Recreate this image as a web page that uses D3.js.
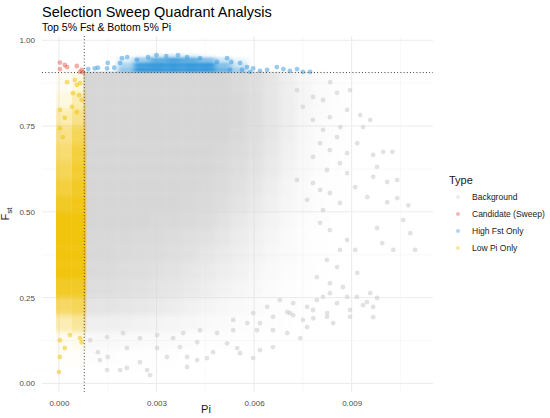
<!DOCTYPE html>
<html>
<head>
<meta charset="utf-8">
<script src="https://cdn.jsdelivr.net/npm/d3@7"></script>
<style>
  body { margin: 0; background: #fff; }
  text { font-family: "Liberation Sans", Arial, sans-serif; }
</style>
</head>
<body>
<svg id="chart"></svg>
<script>
// thresholds (top 5% Fst, bottom 5% Pi)
var fstCut = 0.906;
var piCut = 0.00078;

var piTicks = [0, 0.003, 0.006, 0.009];
var piMinor = [0.0015, 0.0045, 0.0075, 0.0105];
var fstTicks = [0, 0.25, 0.5, 0.75, 1];
var fstMinor = [0.125, 0.375, 0.625, 0.875];

var types = ["Background", "Candidate (Sweep)", "High Fst Only", "Low Pi Only"];
var typeColors = ["#d3d3d3", "#e74c3c", "#3498db", "#f1c40f"];

// background cloud, read as density per cell (0 = empty, 1 = solid)
var bgPiEdges = [0.00078, 0.0013, 0.0018, 0.0023, 0.0028, 0.0033, 0.0038, 0.0043, 0.0048,
  0.0053, 0.0058, 0.0063, 0.0068, 0.0073, 0.0078, 0.0083, 0.0088];
var bgFstEdges = [0.906, 0.85, 0.80, 0.75, 0.70, 0.65, 0.60, 0.55, 0.50, 0.45, 0.40,
  0.35, 0.30, 0.25, 0.20, 0.15, 0.10, 0.05, 0.0];
var bgDensity = [
  [1, 1, 1, 1, 1, 1, 1, 1, 1, .9, .8, .6, .4, .22, .1, .04],
  [1, 1, 1, 1, 1, 1, 1, 1, 1, .95, .82, .62, .42, .24, .11, .05],
  [1, 1, 1, 1, 1, 1, 1, 1, 1, .95, .82, .62, .42, .23, .1, .04],
  [1, 1, 1, 1, 1, 1, 1, 1, 1, .92, .8, .6, .38, .2, .09, .04],
  [1, 1, 1, 1, 1, 1, 1, 1, .95, .88, .75, .55, .34, .18, .08, .03],
  [1, 1, 1, 1, 1, 1, 1, 1, .92, .84, .68, .5, .3, .16, .07, .03],
  [1, 1, 1, 1, 1, 1, 1, .95, .88, .76, .6, .42, .25, .13, .06, .02],
  [1, 1, 1, 1, 1, 1, .95, .9, .82, .68, .52, .36, .22, .11, .05, .02],
  [1, 1, 1, 1, .95, .95, .9, .85, .72, .56, .42, .3, .17, .08, .04, .01],
  [.95, .95, .95, .9, .9, .85, .8, .72, .6, .46, .35, .24, .13, .06, .03, .01],
  [.95, .95, .9, .88, .85, .8, .72, .62, .5, .4, .3, .2, .11, .05, .02, 0],
  [.9, .9, .86, .82, .76, .7, .62, .52, .42, .32, .23, .15, .08, .04, .02, 0],
  [.82, .82, .78, .72, .66, .6, .52, .42, .32, .24, .16, .1, .06, .03, .01, 0],
  [.65, .65, .6, .55, .5, .45, .35, .28, .2, .14, .1, .06, .04, .02, 0, 0],
  [.4, .4, .36, .32, .28, .24, .2, .15, .11, .08, .06, .04, .02, .01, 0, 0],
  [.18, .18, .15, .13, .11, .09, .07, .05, .04, .03, .02, .01, 0, 0, 0, 0],
  [.04, .04, .03, .03, .02, .02, .01, .01, 0, 0, 0, 0, 0, 0, 0, 0],
  [0, 0, 0, 0, 0, 0, 0, 0, 0, 0, 0, 0, 0, 0, 0, 0]
];

// low pi band density
var lowPiEdges = [0, 0.0004, 0.00078];
var lowPiFstEdges = bgFstEdges;
var lowPiDensity = [
  [.05, .12], [.12, .3], [.3, .5], [.5, .7], [.6, .8], [.7, .85],
  [.8, .9], [.9, .95], [1, 1], [1, 1], [1, 1], [1, 1], [.9, .9],
  [.65, .7], [.3, .4], [.06, .08], [.02, .02], [0, 0]
];

// high fst band density
var highFstPiEdges = [0.0018, 0.0023, 0.0028, 0.0033, 0.0038, 0.0043, 0.0048, 0.0053, 0.0058];
var highFstFstEdges = [0.96, 0.95, 0.935, 0.92, 0.906];
var highFstDensity = [
  [0, .05, .15, .2, .15, .05, 0, 0],
  [.15, .5, .8, .9, .8, .6, .25, .1],
  [.4, .95, 1, 1, 1, 1, .6, .25],
  [.55, 1, 1, 1, 1, 1, .75, .45]
];

// scattered points outside the dense areas
var bgPi = [0.00966, 0.01009, 0.0104, 0.00911, 0.00948, 0.01009, 0.0104, 0.01074, 0.01058, 0.00978,
  0.0108, 0.00994, 0.01028, 0.01095, 0.00911, 0.00886, 0.00917, 0.00957, 0.00978, 0.00935,
  0.00895, 0.00966, 0.00834, 0.00895, 0.00855, 0.00926, 0.00957, 0.00935, 0.00886, 0.00865,
  0.00966, 0.00997, 0.01025, 0.00978, 0.00917, 0.00886,
  0.0012, 0.0015, 0.00148, 0.00209, 0.00188, 0.00249, 0.0028, 0.00332, 0.00394, 0.00425,
  0.00455, 0.00302, 0.00474, 0.00517, 0.00548, 0.00557, 0.00597, 0.00618, 0.00658, 0.00702,
  0.00742, 0.00763, 0.00782, 0.00825, 0.00843, 0.0072, 0.00658, 0.00609, 0.00425, 0.00372,
  0.00209, 0.00126, 0.00271, 0.00394,
  0.00833, 0.00864, 0.00803, 0.00833, 0.00864, 0.00824, 0.00855, 0.00793, 0.00833, 0.00873,
  0.00812, 0.00855, 0.00781, 0.00824, 0.00895, 0.0075, 0.0071, 0.00916, 0.00947, 0.00886,
  0.00966, 0.00732, 0.00781, 0.00803, 0.00763, 0.00812,
  0.00732, 0.00781, 0.0075, 0.00812, 0.00833, 0.00781, 0.00812, 0.00855, 0.00803, 0.00833,
  0.00781, 0.00864, 0.00824, 0.00886,
  0.00096, 0.00148, 0.00197, 0.00249, 0.00302, 0.00351, 0.00382, 0.00434, 0.00486, 0.00536,
  0.00579, 0.00618, 0.00536, 0.00658, 0.00597, 0.00702, 0.0064, 0.0072, 0.00763, 0.00679,
  0.00793, 0.00833];
var bgFst = [0.602, 0.587, 0.593, 0.572, 0.543, 0.528, 0.540, 0.519, 0.476, 0.453,
  0.438, 0.409, 0.389, 0.389, 0.389, 0.418, 0.322, 0.263, 0.249, 0.228,
  0.214, 0.193, 0.878, 0.855, 0.847, 0.782, 0.768, 0.747, 0.797, 0.747,
  0.666, 0.675, 0.675, 0.631, 0.700, 0.671,
  0.091, 0.077, 0.039, 0.045, 0.039, 0.062, 0.024, 0.077, 0.077, 0.068,
  0.074, 0.103, 0.091, 0.117, 0.103, 0.088, 0.074, 0.097, 0.106, 0.147,
  0.132, 0.164, 0.19, 0.205, 0.176, 0.199, 0.155, 0.155, 0.12, 0.106,
  0.103, 0.068, 0.039, 0.048,
  0.555, 0.526, 0.468, 0.447, 0.389, 0.360, 0.339, 0.310, 0.292, 0.281,
  0.252, 0.234, 0.214, 0.194, 0.194, 0.185, 0.205, 0.252, 0.237, 0.252,
  0.223, 0.593, 0.584, 0.564, 0.535, 0.505,
  0.855, 0.835, 0.806, 0.826, 0.776, 0.768, 0.739, 0.718, 0.70, 0.68,
  0.66, 0.642, 0.622, 0.613,
  0.126, 0.135, 0.147, 0.132, 0.141, 0.132, 0.147, 0.155, 0.147, 0.155,
  0.176, 0.176, 0.185, 0.194, 0.205, 0.208, 0.223, 0.234, 0.223, 0.243,
  0.243, 0.263];

var candPi = [0.00003, 0.00018, 0.00025, 0.00003, 0.00055, 0.0007, 0.00065, 0.00074];
var candFst = [0.935, 0.928, 0.922, 0.916, 0.925, 0.914, 0.908, 0.907];

var highFstPi = [0.0009, 0.0011, 0.0012, 0.0015, 0.00148, 0.0017, 0.00188, 0.00194, 0.0021,
  0.00486, 0.00517, 0.0053, 0.00557, 0.00578, 0.00563, 0.00597, 0.00618, 0.0064, 0.0067,
  0.0069, 0.0071, 0.00732, 0.0075, 0.00772, 0.00588, 0.00526,
  0.00274, 0.003, 0.0033, 0.00366, 0.00394, 0.00434, 0.0024];
var highFstFst = [0.916, 0.918, 0.92, 0.934, 0.918, 0.92, 0.934, 0.948, 0.951,
  0.937, 0.948, 0.937, 0.934, 0.922, 0.914, 0.918, 0.911, 0.914, 0.922,
  0.916, 0.911, 0.916, 0.908, 0.908, 0.908, 0.914,
  0.951, 0.957, 0.954, 0.957, 0.951, 0.948, 0.943];

var lowPiPi = [0.00025, 0.00049, 0.00055, 0.00065, 0.00043, 0.00062, 0.0007, 0.0004, 0.00003,
  0.00018, 0.00055, 0.00003, 0.00012,
  0.00003, 0.00018, 0.00003, 0, 0.0007, 0.00034, 0.00065];
var lowPiFst = [0.878, 0.884, 0.87, 0.875, 0.846, 0.84, 0.826, 0.806, 0.797,
  0.774, 0.791, 0.744, 0.718,
  0.126, 0.103, 0.077, 0.033, 0.12, 0.141, 0.132];

var W = 550, H = 418;
var svg = d3.select("#chart").attr("width", W).attr("height", H);

var x = d3.scaleLinear().domain([-0.00052, 0.0115]).range([42, 433]);
var y = d3.scaleLinear().domain([-0.025, 1.0125]).range([392, 36]);

// grid
var grid = svg.append("g");
grid.selectAll(".minx").data(piMinor).enter().append("line")
  .attr("x1", x).attr("x2", x).attr("y1", y.range()[1]).attr("y2", y.range()[0])
  .attr("stroke", "#f2f2f2").attr("stroke-width", 0.5);
grid.selectAll(".miny").data(fstMinor).enter().append("line")
  .attr("y1", y).attr("y2", y).attr("x1", x.range()[0]).attr("x2", x.range()[1])
  .attr("stroke", "#f2f2f2").attr("stroke-width", 0.5);
grid.selectAll(".majx").data(piTicks).enter().append("line")
  .attr("x1", x).attr("x2", x).attr("y1", y.range()[1]).attr("y2", y.range()[0])
  .attr("stroke", "#ebebeb").attr("stroke-width", 1);
grid.selectAll(".majy").data(fstTicks).enter().append("line")
  .attr("y1", y).attr("y2", y).attr("x1", x.range()[0]).attr("x2", x.range()[1])
  .attr("stroke", "#ebebeb").attr("stroke-width", 1);

var defs = svg.append("defs");
function blurFilter(id, sd) {
  defs.append("filter").attr("id", id)
    .attr("x", "-20%").attr("y", "-20%").attr("width", "140%").attr("height", "140%")
    .append("feGaussianBlur").attr("stdDeviation", sd);
}
function clipRect(id, x0, y0, x1, y1) {
  defs.append("clipPath").attr("id", id).append("rect")
    .attr("x", x0).attr("y", y0).attr("width", x1 - x0).attr("height", y1 - y0);
}
blurFilter("blurBg", "3 2.5");
blurFilter("blurLow", "0.6 2.5");
blurFilter("blurHigh", "2.5 1");

// density cells -> rects, outer cells padded so the blur keeps a hard edge at the clip
function tiles(g, piEdges, fstEdges, dens, color, pad) {
  var cells = [];
  dens.forEach(function (row, r) {
    row.forEach(function (d, c) {
      if (d > 0) cells.push({ r: r, c: c, d: d });
    });
  });
  g.selectAll("rect").data(cells).enter().append("rect")
    .attr("x", function (d) { return x(piEdges[d.c]) - (d.c === 0 ? pad.l : 0); })
    .attr("width", function (d) {
      return x(piEdges[d.c + 1]) - x(piEdges[d.c]) + (d.c === 0 ? pad.l : 0) +
        (d.c === piEdges.length - 2 ? pad.r : 0);
    })
    .attr("y", function (d) { return y(fstEdges[d.r]) - (d.r === 0 ? pad.t : 0); })
    .attr("height", function (d) {
      return y(fstEdges[d.r + 1]) - y(fstEdges[d.r]) + (d.r === 0 ? pad.t : 0);
    })
    .attr("fill", color)
    .attr("fill-opacity", function (d) { return d.d; });
}

clipRect("clipBg", x(piCut) - 1, y(fstCut) - 1, x.range()[1], y.range()[0]);
clipRect("clipLow", x(0) - 3, y.range()[1], x(piCut) + 2, y.range()[0]);
clipRect("clipHigh", x(piCut), y(0.965), x.range()[1], y(fstCut) + 1);

var bg = svg.append("g").attr("clip-path", "url(#clipBg)").append("g").attr("filter", "url(#blurBg)");
tiles(bg, bgPiEdges, bgFstEdges, bgDensity, "#d6d6d6", { l: 8, r: 0, t: 8 });

function dots(pi, fst, color, op, r) {
  svg.append("g").selectAll("circle").data(pi).enter().append("circle")
    .attr("cx", function (d) { return x(d); })
    .attr("cy", function (d, i) { return y(fst[i]); })
    .attr("r", r)
    .attr("fill", color)
    .attr("fill-opacity", op);
}
dots(bgPi, bgFst, "#cfcfcf", 0.6, 2.4);

var low = svg.append("g").attr("clip-path", "url(#clipLow)").append("g").attr("filter", "url(#blurLow)");
tiles(low, lowPiEdges, lowPiFstEdges, lowPiDensity, "#f1c40f", { l: 3, r: 3, t: 0 });
dots(lowPiPi, lowPiFst, "#f1c40f", 0.55, 2.4);

var high = svg.append("g").attr("clip-path", "url(#clipHigh)").append("g").attr("filter", "url(#blurHigh)");
tiles(high, highFstPiEdges, highFstFstEdges, highFstDensity, "#3498db", { l: 0, r: 0, t: 0 });
dots(highFstPi, highFstFst, "#3498db", 0.5, 2.4);

dots(candPi, candFst, "#e74c3c", 0.45, 2.4);

// threshold lines
svg.append("line")
  .attr("x1", x.range()[0]).attr("x2", x.range()[1])
  .attr("y1", y(fstCut)).attr("y2", y(fstCut))
  .attr("stroke", "#444").attr("stroke-width", 1).attr("stroke-dasharray", "1 2.2");
svg.append("line")
  .attr("x1", x(piCut)).attr("x2", x(piCut))
  .attr("y1", y.range()[1]).attr("y2", y.range()[0])
  .attr("stroke", "#444").attr("stroke-width", 1).attr("stroke-dasharray", "1 2.2");

// axes
var xAxis = svg.append("g").attr("transform", "translate(0,392)")
  .call(d3.axisBottom(x).tickValues(piTicks).tickFormat(d3.format(".3f")).tickSize(0).tickPadding(8));
var yAxis = svg.append("g").attr("transform", "translate(42,0)")
  .call(d3.axisLeft(y).tickValues(fstTicks).tickFormat(d3.format(".2f")).tickSize(0).tickPadding(7));
[xAxis, yAxis].forEach(function (a) {
  a.select(".domain").remove();
  a.selectAll("text").attr("fill", "#4d4d4d").style("font-size", "8px")
    .style("font-family", "'Liberation Sans', Arial, sans-serif");
});

svg.append("text").attr("x", 206).attr("y", 413).attr("text-anchor", "middle")
  .style("font-size", "11px").attr("fill", "#1a1a1a").text("Pi");

var ylab = svg.append("text").attr("transform", "translate(9,214) rotate(-90)")
  .attr("text-anchor", "middle").style("font-size", "11px").attr("fill", "#1a1a1a");
ylab.append("tspan").text("F");
ylab.append("tspan").attr("dy", 3).style("font-size", "8px").text("st");

// titles
svg.append("text").attr("x", 42).attr("y", 17).style("font-size", "14.5px").attr("fill", "#000")
  .text("Selection Sweep Quadrant Analysis");
svg.append("text").attr("x", 42).attr("y", 31).style("font-size", "10.5px").attr("fill", "#000")
  .text("Top 5% Fst & Bottom 5% Pi");

// legend
var leg = svg.append("g").attr("transform", "translate(449,0)");
leg.append("text").attr("x", 0).attr("y", 184).style("font-size", "11px").attr("fill", "#1a1a1a").text("Type");
var items = leg.selectAll(".item").data(types).enter().append("g")
  .attr("transform", function (d, i) { return "translate(0," + (197 + i * 17) + ")"; });
items.append("circle").attr("cx", 9).attr("cy", 0).attr("r", 2)
  .attr("fill", function (d, i) { return typeColors[i]; }).attr("fill-opacity", 0.4);
items.append("text").attr("x", 23).attr("y", 3).style("font-size", "8.5px").attr("fill", "#1a1a1a")
  .text(function (d) { return d; });
</script>
</body>
</html>
